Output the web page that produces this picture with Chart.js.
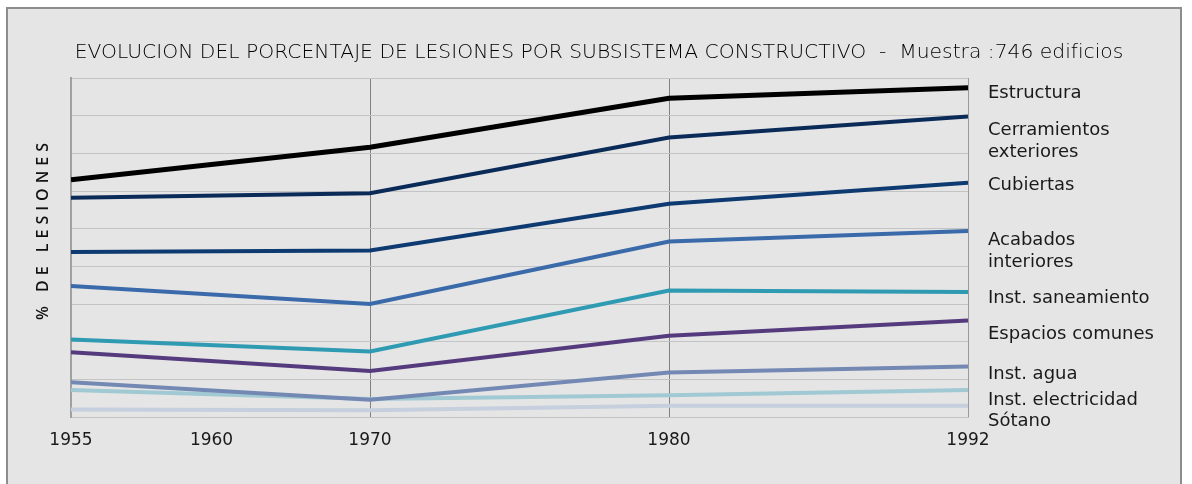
<!DOCTYPE html>
<html lang="es">
<head>
<meta charset="utf-8">
<title>Evolución del porcentaje de lesiones</title>
<script src="https://cdn.jsdelivr.net/npm/chart.js@4.4.1/dist/chart.umd.min.js"></script>
<style>
  html, body { margin: 0; padding: 0; background: #ffffff; }
  #frame {
    position: absolute; left: 6px; top: 7px; width: 1172px; height: 490px;
    background: #e5e5e5; border: 2px solid #8d8d8d;
  }
  #wrap { position: absolute; left: 0; top: 0; width: 1192px; height: 484px; }
</style>
</head>
<body>
<div id="frame"></div>
<div id="wrap"><canvas id="lesiones" width="1192" height="484"></canvas></div>
<script>
// Años del eje horizontal y su posición en la escala (1955, 1970, 1980, 1992 equidistantes)
const tickLabels = ['1955', '1960', '1970', '1980', '1992'];
const tickPos = [0, 0.47, 1, 2, 3];
const yearPos = [0, 1, 2, 3];

// Porcentaje de lesiones por subsistema (1955, 1970, 1980, 1992)
const estructura = [31.5, 35.8, 42.3, 43.7];
const cerramientos = [29.1, 29.7, 37.1, 39.9];
const cubiertas = [21.9, 22.1, 28.3, 31.1];
const acabados = [17.4, 15.0, 23.3, 24.7];
const saneamiento = [10.3, 8.7, 16.8, 16.6];
const espacios = [8.6, 6.1, 10.8, 12.8];
const agua = [4.6, 2.3, 5.9, 6.7];
const electricidad = [3.6, 2.4, 2.9, 3.6];
const sotano = [1.0, 0.9, 1.5, 1.5];

const series = [
  { label: ['Estructura'], data: estructura, color: '#000000', width: 5 },
  { label: ['Cerramientos', 'exteriores'], data: cerramientos, color: '#0a2a58', width: 4 },
  { label: ['Cubiertas'], data: cubiertas, color: '#0d3a70', width: 4 },
  { label: ['Acabados', 'interiores'], data: acabados, color: '#3a6aaa', width: 4 },
  { label: ['Inst. saneamiento'], data: saneamiento, color: '#2f9bb3', width: 4 },
  { label: ['Espacios comunes'], data: espacios, color: '#553b7d', width: 4 },
  { label: ['Inst. agua'], data: agua, color: '#7389b3', width: 4 },
  { label: ['Inst. electricidad'], data: electricidad, color: '#a0c9d4', width: 4 },
  { label: ['Sótano'], data: sotano, color: '#c5cfdd', width: 4 }
];

// baseline of each name, measured down from the end of its line
const nameOffsets = [10.6, 18.7, 7.3, 14, 10.6, 18, 12.3, 15, 20.7];

const textPlugin = {
  id: 'textos',
  afterDraw(chart) {
    const ctx = chart.ctx;
    const area = chart.chartArea;
    const y = chart.scales.y;
    ctx.save();
    ctx.fillStyle = '#000000';

    // título
    ctx.font = '300 20.3px "DejaVu Sans"';
    ctx.textAlign = 'center';
    ctx.textBaseline = 'alphabetic';
    ctx.fillText('EVOLUCION DEL PORCENTAJE DE LESIONES POR SUBSISTEMA CONSTRUCTIVO  -  Muestra :746 edificios', 599, 58);

    // nombres de las series al final de cada línea
    ctx.textAlign = 'left';
    ctx.font = '18px "DejaVu Sans"';
    ctx.fillStyle = '#1a1a1a';
    chart.data.datasets.forEach((ds, i) => {
      const last = ds.data[ds.data.length - 1].y;
      const base = y.getPixelForValue(last) + nameOffsets[i];
      ds.names.forEach((line, k) => ctx.fillText(line, area.right + 20, base + k * 22));
    });

    // título del eje vertical
    ctx.translate(43, 231);
    ctx.rotate(-Math.PI / 2);
    ctx.font = '600 16px "Open Sans"';
    ctx.letterSpacing = '5px';
    ctx.textAlign = 'center';
    ctx.textBaseline = 'middle';
    ctx.fillStyle = '#111111';
    ctx.fillText('% DE LESIONES', 2, 0);
    ctx.restore();
  }
};

new Chart(document.getElementById('lesiones'), {
  type: 'line',
  data: {
    datasets: series.map(s => ({
      label: s.label.join(' '),
      names: s.label,
      data: s.data.map((v, i) => ({ x: yearPos[i], y: v })),
      borderColor: s.color,
      borderWidth: s.width,
      pointRadius: 0,
      tension: 0,
      fill: false
    }))
  },
  options: {
    responsive: false,
    animation: false,
    devicePixelRatio: 1,
    layout: { padding: { top: 78, right: 224, bottom: 0, left: 0 } },
    plugins: { legend: { display: false }, tooltip: { enabled: false } },
    scales: {
      x: {
        type: 'linear',
        min: 0,
        max: 3,
        afterBuildTicks: scale => { scale.ticks = tickPos.map(v => ({ value: v })); },
        afterFit: scale => { scale.height = 67; },
        ticks: {
          autoSkip: false,
          maxRotation: 0,
          padding: 13,
          color: '#1a1a1a',
          font: { family: 'DejaVu Sans', size: 17 },
          callback: (value, index) => tickLabels[index]
        },
        grid: {
          drawTicks: false,
          lineWidth: 1,
          color: ctx => ['rgba(0,0,0,0)', 'rgba(0,0,0,0)', '#808080', '#808080', '#9a9a9a'][ctx.index]
        },
        border: { display: true, color: '#c2c2c2', width: 1 }
      },
      y: {
        min: 0,
        max: 45,
        afterFit: scale => { scale.width = 71; },
        ticks: { display: false, stepSize: 5 },
        grid: { drawTicks: false, color: '#c4c4c4', lineWidth: 1 },
        border: { display: true, color: '#a0a0a0', width: 2 }
      }
    }
  },
  plugins: [textPlugin]
});
</script>
</body>
</html>
